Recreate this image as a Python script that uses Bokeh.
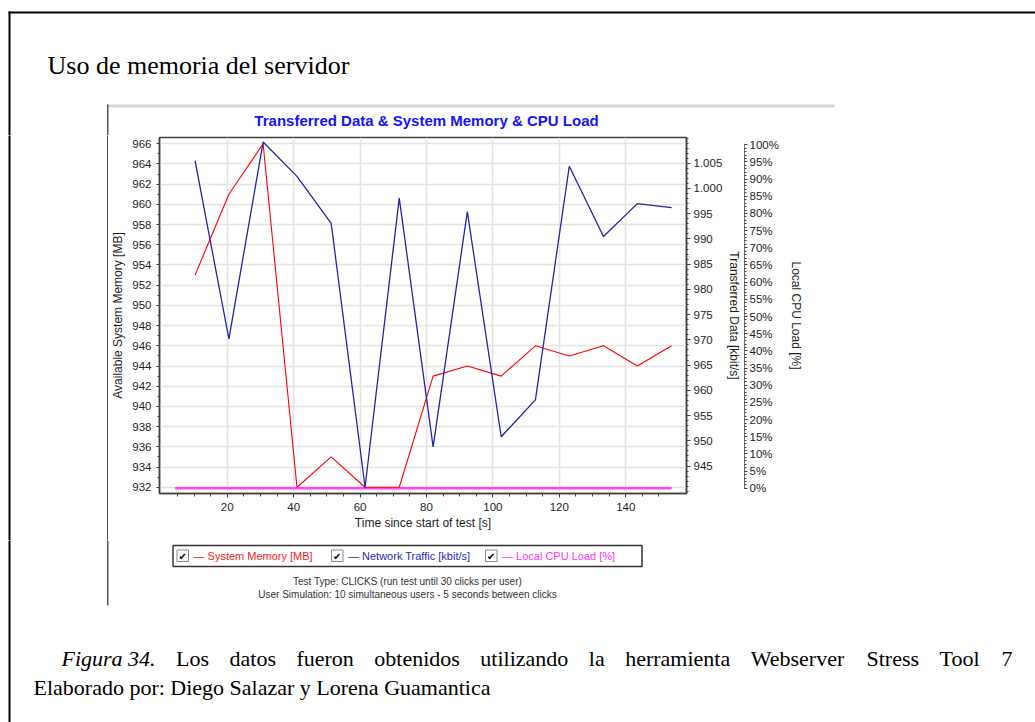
from bokeh.plotting import figure
from bokeh.layouts import column, row
from bokeh.models import Range1d, LinearAxis, FixedTicker, PrintfTickFormatter
from bokeh.core.properties import value
from bokeh.embed import file_html
from bokeh.resources import INLINE

# ---------------- data ----------------
time_s = [10.3, 20.5, 30.8, 41.0, 51.3, 61.5, 71.8, 82.0, 92.3, 102.5, 112.8, 123.0, 133.3, 143.5, 153.8]
memory_mb = [953, 961, 966, 932, 935, 932, 932, 943, 944, 943, 946, 945, 946, 944, 946]
traffic_kbit = [1005.5, 970.2, 1009.2, 1002.4, 993.1, 940.8, 998.1, 948.8, 995.4, 950.8, 958.1, 1004.4, 990.5, 997.0, 996.2]
cpu_time = [4.3, 10.3, 20.5, 30.8, 41.0, 51.3, 61.5, 71.8, 82.0, 92.3, 102.5, 112.8, 123.0, 133.3, 143.5, 153.8]
cpu_load = [0, 0, 0, 0, 0, 0, 0, 0, 0, 0, 0, 0, 0, 0, 0, 0]

x_ticks = [20, 40, 60, 80, 100, 120, 140]
x_minor = [5, 10, 15, 25, 30, 35, 45, 50, 55, 65, 70, 75, 85, 90, 95, 105, 110, 115, 125, 130, 135, 145, 150]
mem_ticks = list(range(932, 967, 2))
traffic_ticks = list(range(945, 1006, 5))
traffic_overrides = {1000: "1.000", 1005: "1.005"}
cpu_ticks = list(range(0, 101, 5))

series_names = ["System Memory [MB]", "Network Traffic [kbit/s]", "Local CPU Load [%]"]
series_colors = ["#ff0000", "#2323a8", "#ff40ff"]
legend_text_colors = ["#ff2020", "#2a2ac0", "#ff30ff"]

page_title = "Uso de memoria del servidor"
chart_title = "Transferred Data & System Memory & CPU Load"
footer_lines = ["Test Type: CLICKS (run test until 30 clicks per user)",
                "User Simulation: 10 simultaneous users - 5 seconds between clicks"]
caption_italic = "Figura 34."
caption_rest = "Los datos fueron obtenidos utilizando la herramienta Webserver Stress Tool 7"
caption_line2 = "Elaborado por: Diego Salazar y Lorena Guamantica"

FONT = "Liberation Sans"
SERIF = "Liberation Serif"
W, H = 1035, 722
TOP_H = 135      # page rows 0..135
CHART_B = 540    # chart figure: page rows 135..540
LEFT_W = 108     # left strip: page columns 0..108


# ---------------- chart figure ----------------
p = figure(width=W - LEFT_W, height=CHART_B - TOP_H,
           x_range=Range1d(-0.4, 158.3), y_range=Range1d(931.38, 966.62),
           output_backend="svg", toolbar_location=None,
           min_border_left=156 - LEFT_W, min_border_right=W - 686,
           min_border_top=137 - TOP_H, min_border_bottom=CHART_B - 493)
p.extra_y_ranges = {"traffic": Range1d(939.56, 1010.1), "cpu": Range1d(-1.5, 102.1)}
p.background_fill_color = "white"
p.border_fill_color = "white"
p.outline_line_color = "#404040"
p.outline_line_width = 1.5


def style_axis(ax, tick_out=3, minor_out=2, standoff=5, label_standoff=4):
    ax.axis_line_color = "#404040"
    ax.axis_line_width = 1.5
    ax.major_tick_line_color = "#404040"
    ax.minor_tick_line_color = "#404040"
    ax.major_tick_in = 0
    ax.minor_tick_in = 0
    ax.major_tick_out = tick_out
    ax.minor_tick_out = minor_out
    ax.major_label_text_font = FONT
    ax.major_label_text_font_size = "11.5px"
    ax.major_label_text_color = "#1e1e1e"
    ax.major_label_standoff = standoff
    ax.axis_label_text_font = FONT
    ax.axis_label_text_font_size = "12px"
    ax.axis_label_text_font_style = "normal"
    ax.axis_label_text_color = "#1e1e1e"
    ax.axis_label_standoff = label_standoff


xa = p.xaxis[0]
xa.ticker = FixedTicker(ticks=x_ticks, minor_ticks=x_minor)
xa.axis_label = "Time since start of test [s]"
style_axis(xa, tick_out=4, minor_out=3, standoff=5, label_standoff=2)

ya = p.yaxis[0]
ya.ticker = FixedTicker(ticks=mem_ticks, minor_ticks=list(range(931, 967)))
ya.axis_label = "Available System Memory [MB]"
style_axis(ya, tick_out=3, minor_out=2, standoff=5, label_standoff=4)

ta = LinearAxis(y_range_name="traffic", axis_label="Transferred Data [kbit/s]")
ta.ticker = FixedTicker(ticks=traffic_ticks, minor_ticks=list(range(940, 1011)))
ta.major_label_overrides = traffic_overrides
style_axis(ta, tick_out=4, minor_out=2, standoff=3, label_standoff=2)
p.add_layout(ta, "right")

spacer = LinearAxis(y_range_name="cpu", ticker=FixedTicker(ticks=[]), axis_line_color=None,
                    major_tick_out=10, major_tick_in=0, minor_tick_out=0, minor_tick_in=0,
                    major_tick_line_color=None, minor_tick_line_color=None)
p.add_layout(spacer, "right")

ca = LinearAxis(y_range_name="cpu", axis_label="Local CPU Load [%]", bounds=(0, 100))
ca.ticker = FixedTicker(ticks=cpu_ticks, minor_ticks=list(range(0, 101)))
ca.formatter = PrintfTickFormatter(format="%d%%")
style_axis(ca, tick_out=3, minor_out=2, standoff=2, label_standoff=7)
ca.axis_line_color = "#707070"
ca.axis_line_width = 1
p.add_layout(ca, "right")

p.xgrid.ticker = FixedTicker(ticks=x_ticks)
p.ygrid.ticker = FixedTicker(ticks=mem_ticks)
for g in (p.xgrid[0], p.ygrid[0]):
    g.grid_line_color = "#e4e4e4"
    g.grid_line_width = 1.6

p.line(cpu_time, cpu_load, y_range_name="cpu", line_color=series_colors[2], line_width=2.5)
p.line(time_s, memory_mb, line_color=series_colors[0], line_width=1.1)
p.line(time_s, traffic_kbit, y_range_name="traffic", line_color=series_colors[1], line_width=1.3)


# ---------------- decoration figures (page pixel coordinates, y downwards) ----------------
def decor(x0, x1, y0, y1):
    f = figure(width=x1 - x0, height=y1 - y0, x_range=Range1d(x0, x1), y_range=Range1d(y1, y0),
               output_backend="svg", toolbar_location=None, min_border=0,
               x_axis_location=None, y_axis_location=None)
    f.xgrid.visible = False
    f.ygrid.visible = False
    f.outline_line_color = None
    f.background_fill_color = "white"
    f.border_fill_color = "white"
    return f


def rect(f, x0, y0, x1, y1, fill=None, line=None, lw=1.0):
    f.quad(left=[x0], right=[x1], top=[y0], bottom=[y1],
           fill_color=fill if fill else "white", fill_alpha=1.0 if fill else 0.0,
           line_color=line, line_width=lw)


def txt(f, x, y, s, size, color="#000000", font=FONT, align="left", baseline="middle", style="normal"):
    f.text(x=[x], y=[y], text=[s], text_font=value(font), text_font_size=value(size),
           text_color=color, text_align=align, text_baseline=baseline, text_font_style=style)


# Times-compatible advance widths (1/1000 em) used to justify the first caption line
SERIF_W = {"L": 611, "o": 500, "s": 389, "d": 500, "a": 444, "t": 278, "f": 333, "u": 500, "e": 444,
           "r": 333, "n": 500, "b": 500, "i": 278, "l": 278, "z": 444, "h": 500, "m": 778, "W": 944,
           "v": 500, "S": 556, "T": 611, "7": 500}
ITALIC_W = 4278 / 1000.0


def word_w(w, size):
    return sum(SERIF_W.get(c, 500) for c in w) / 1000.0 * size


# top strip
top = decor(0, W, 0, TOP_H)
rect(top, 8, 11, W + 5, 13, fill="#000000")
rect(top, 8, 11, 10, TOP_H + 2, fill="#000000")
rect(top, 106.5, 104, 834, 107, fill="#d6d6d6")
rect(top, 106.5, 104, 108, TOP_H + 2, fill="#555555")
txt(top, 47, 65, page_title, "26px", font=SERIF, baseline="alphabetic")
txt(top, 426, 120, chart_title, "15px", color="#1414f5", align="center", style="bold")

# left strip beside the chart: page border rule and chart-image rule
left = decor(0, LEFT_W, TOP_H, CHART_B)
rect(left, 8, TOP_H - 2, 10, CHART_B + 2, fill="#000000")
rect(left, 106.5, TOP_H - 2, 108, CHART_B + 2, fill="#555555")

# bottom strip
bot = decor(0, W, CHART_B, H)
rect(bot, 8, CHART_B - 2, 10, H + 2, fill="#000000")
rect(bot, 106.5, CHART_B - 2, 108, 605, fill="#555555")
rect(bot, 172.5, 545, 641.5, 566, line="#333333", lw=1.5)
for cx, name, col in zip([176.5, 331, 485], series_names, legend_text_colors):
    rect(bot, cx, 549.5, cx + 11.5, 561, fill="#ffffff", line="#8a8a8a", lw=1)
    txt(bot, cx + 5.8, 555.5, "\u2714", "10px", color="#000000", font="DejaVu Sans", align="center")
    txt(bot, cx + 16.5, 555.7, "\u2014 " + name, "11px", color=col)
txt(bot, 407, 581, footer_lines[0], "10px", color="#333333", align="center")
txt(bot, 407, 593.5, footer_lines[1], "10px", color="#333333", align="center")

# first caption line, justified between x=61 and x=1012
CAP = 22
x_start, x_end = 61.0, 1012.0
words = caption_rest.split(" ")
used = ITALIC_W * CAP + sum(word_w(w, CAP) for w in words)
gap = (x_end - x_start - used) / len(words)
txt(bot, x_start, 658, caption_italic, "%dpx" % CAP, font=SERIF, baseline="alphabetic", style="italic")
xc = x_start + ITALIC_W * CAP + gap
for w in words:
    txt(bot, xc, 658, w, "%dpx" % CAP, font=SERIF, baseline="alphabetic")
    xc += word_w(w, CAP) + gap
txt(bot, 33, 687, caption_line2, "%dpx" % CAP, font=SERIF, baseline="alphabetic")

middle = row(column(left, spacing=0), column(p, spacing=0), spacing=0)
layout = column(top, middle, bot, spacing=0)
open("out.html", "w").write(file_html(layout, INLINE))
